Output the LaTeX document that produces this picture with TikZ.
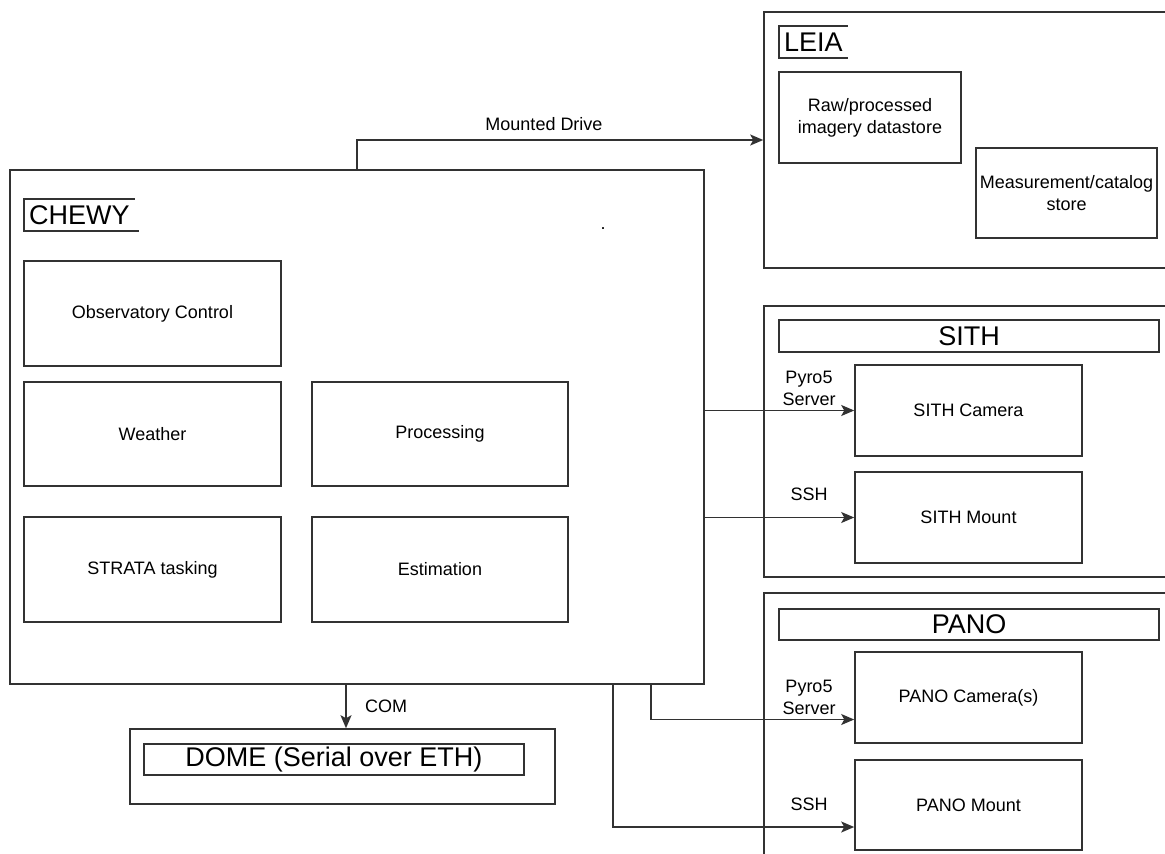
\documentclass[tikz,border=0pt]{standalone}
\usepackage{fontspec}
\setmainfont{Liberation Sans}
\usetikzlibrary{arrows.meta,positioning}
\definecolor{lineGray}{RGB}{50,50,50}
\newcommand{\lblfont}{\fontsize{18}{22}\selectfont}
\newcommand{\ttlfont}{\fontsize{27}{31}\selectfont}

\tikzset{
  box/.style={draw=lineGray, line width=1.6pt, rectangle, inner sep=0pt, font=\lblfont, align=center},
  titlebox/.style={box, font=\ttlfont},
  openlabel/.style={rectangle, inner xsep=5pt, inner ysep=0pt, minimum height=32pt, font=\ttlfont, anchor=west},
  conn/.style={->, draw=lineGray, line width=1.6pt},
  lbl/.style={font=\lblfont, align=center, inner sep=0pt}
}

\begin{document}
\begin{tikzpicture}[x=1pt, y=-1pt, >={Stealth[length=13pt,width=11pt,inset=3pt]}]
  \useasboundingbox (0,0) rectangle (1165,854);

  % CHEWY host
  \node[box, minimum width=694pt, minimum height=514pt] (chewy) at (357,427) {};
  \node[openlabel] (chewylbl) at (24,215) {CHEWY};
  \draw[lineGray, line width=1.6pt] (chewylbl.north east) -- (chewylbl.north west) -- (chewylbl.south west) -- ([xshift=4pt]chewylbl.south east);
  \node[box, minimum width=257pt, minimum height=105pt] (obs) at (152.5,313.5) {Observatory Control};
  \node[box, minimum width=257pt, minimum height=104pt] (weather) at (152.5,434) {Weather};
  \node[box, minimum width=256pt, minimum height=104pt] (proc) at (440,434) {Processing};
  \node[box, minimum width=257pt, minimum height=105pt] (strata) at (152.5,569.5) {STRATA tasking};
  \node[box, minimum width=256pt, minimum height=105pt] (estim) at (440,569.5) {Estimation};
  \node[lbl] (stray) at (603,229) {.};

  % LEIA storage
  \node[box, minimum width=411pt, minimum height=256pt] (leia) at (969.5,140) {};
  \node[openlabel] (leialbl) at (779,42) {LEIA};
  \draw[lineGray, line width=1.6pt] (leialbl.north east) -- (leialbl.north west) -- (leialbl.south west) -- (leialbl.south east);
  \node[box, minimum width=182pt, minimum height=91pt] (raw) at (870,117.5) {Raw/processed\\imagery datastore};
  \node[box, minimum width=181pt, minimum height=90pt] (meas) at (1066.5,193) {Measurement/catalog\\store};

  % SITH
  \node[box, minimum width=411pt, minimum height=271pt] (sith) at (969.5,441.5) {};
  \node[titlebox, minimum width=380pt, minimum height=32pt] (sithttl) at (969,336) {SITH};
  \node[box, minimum width=227pt, minimum height=91pt] (sithcam) at (968.5,410.5) {SITH Camera};
  \node[box, minimum width=227pt, minimum height=91pt] (sithmount) at (968.5,517.5) {SITH Mount};

  % PANO
  \node[box, minimum width=411pt, minimum height=277pt] (pano) at (969.5,731.5) {};
  \node[titlebox, minimum width=380pt, minimum height=31pt] (panottl) at (969,624.5) {PANO};
  \node[box, minimum width=227pt, minimum height=91pt] (panocam) at (968.5,697.5) {PANO Camera(s)};
  \node[box, minimum width=227pt, minimum height=90pt] (panomount) at (968.5,805) {PANO Mount};

  % DOME
  \node[box, minimum width=425pt, minimum height=75pt] (dome) at (342.5,766.5) {};
  \node[titlebox, minimum width=380pt, minimum height=31pt] (domettl) at (334,759.5) {DOME (Serial over ETH)};

  % links
  \draw[conn] (chewy.north) |- (leia.west);
  \draw[conn] (chewy.east |- sithcam.west) -- (sithcam.west);
  \draw[conn] (chewy.east |- sithmount.west) -- (sithmount.west);
  \draw[conn] ([xshift=294pt]chewy.south) |- ([yshift=-22pt]panocam.west);
  \draw[conn] ([xshift=256pt]chewy.south) |- ([yshift=-22pt]panomount.west);
  \draw[conn] ([xshift=-11pt]chewy.south) -- ([xshift=3.5pt]dome.north);

  \node[lbl] (mountlbl) at (544,124) {Mounted Drive};
  \node[lbl] (sithpyro) at (809,388) {Pyro5\\Server};
  \node[lbl] (sithssh) at (809,494) {SSH};
  \node[lbl] (panopyro) at (809,697) {Pyro5\\Server};
  \node[lbl] (panossh) at (809,804) {SSH};
  \node[lbl] (comlbl) at (386,706) {COM};
\end{tikzpicture}
\end{document}
